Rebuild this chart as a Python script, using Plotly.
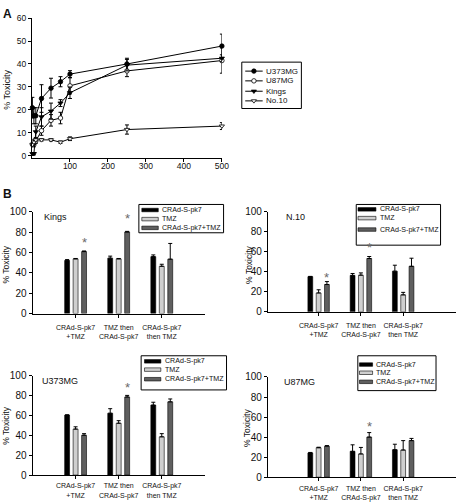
import plotly.graph_objects as go

W, H = 464, 504
FONT = "Liberation Sans, Arial, sans-serif"


def fx(p):
    return p / W


def fy(p):
    return 1 - p / H


# ---------------- Panel A data ----------------
moi = [1, 5, 10, 25, 50, 75, 100, 250, 500]
u373_mean = [21, 17.5, 17.5, 25, 29.5, 32.3, 35.6, 40, 47.8]
u373_err = [4.5, 3.5, 3.5, 6, 4.3, 2.2, 1.5, 2.5, 5.2]
u87_mean = [5, 5, 6.5, 11, 15.5, 16.5, 30.5, 37, 41.5]
u87_err = [0.5, 1, 1, 2, 2.5, 2.5, 3.5, 2.5, 5.5]
kings_mean = [1, 1, 10.5, 17, 19.5, 23, 27.5, 39.5, 42.5]
kings_err = [0.5, 0.5, 2.5, 4, 3.5, 1.5, 2.5, 2.5, 1.5]
no10_mean = [5, 6, 7, 7, 7, 6, 7.5, 11.5, 13]
no10_err = [0.5, 1, 0.5, 0.5, 0.5, 0.5, 0.8, 2, 1.5]
a_names = ["U373MG", "U87MG", "Kings", "No.10"]
a_xticks = [100, 200, 300, 400, 500]
a_yticks = [0, 10, 20, 30, 40, 50, 60]

# ---------------- Panel B data ----------------
treat_labels = ["CRAd-S-pk7<br>+TMZ", "TMZ then<br>CRAd-S-pk7", "CRAd-S-pk7<br>then TMZ"]
series_names = ["CRAd-S-pk7", "TMZ", "CRAd-S-pk7+TMZ"]
b_yticks = [0, 20, 40, 60, 80, 100]

kings_vals = [[52.3, 54.5, 56.0], [53.8, 53.8, 46.5], [61.0, 80.3, 53.5]]
kings_errs = [[0.8, 2.0, 1.7], [0.4, 0.4, 2.0], [0.6, 0.6, 15.5]]
kings_star = [71, 94.5]

n10_vals = [[35.2, 36.5, 40.7], [18.9, 36.7, 17.0], [27.4, 53.4, 45.6]]
n10_errs = [[0.3, 1.9, 6.0], [3.2, 2.3, 2.5], [2.9, 2.0, 8.1]]
n10_star = [35.8, 65]

u373b_vals = [[60.5, 62.4, 70.6], [46.4, 52.3, 38.6], [40.2, 78.8, 73.9]]
u373b_errs = [[0.3, 4.6, 2.9], [2.3, 2.6, 3.2], [1.6, 1.6, 2.9]]
u373b_star = [89]

u87b_vals = [[24.2, 25.8, 27.4], [29.4, 23.2, 27.1], [31.0, 40.0, 36.5]]
u87b_errs = [[0.5, 6.5, 5.5], [0.5, 6.5, 9.4], [0.5, 4.5, 2.2]]
u87b_star = [52]

bar_colors = ["#000000", "#cfcfcf", "#5f5f5f"]

fig = go.Figure()

# ---------------- Panel A traces ----------------
a_series = [
    (u373_mean, u373_err, "circle", "black"),
    (u87_mean, u87_err, "circle", "white"),
    (kings_mean, kings_err, "triangle-down", "black"),
    (no10_mean, no10_err, "triangle-down", "white"),
]
for name, (m, e, sym, fill) in zip(a_names, a_series):
    fig.add_trace(go.Scatter(
        x=moi, y=m, name=name, mode="lines+markers",
        line=dict(color="black", width=1),
        marker=dict(symbol=sym, size=4.5, color=fill, line=dict(color="black", width=0.8)),
        error_y=dict(type="data", array=e, visible=True, color="black", thickness=1, width=2),
        xaxis="x", yaxis="y", showlegend=False, cliponaxis=False,
    ))

# ---------------- Panel B traces ----------------
panels = [
    ("x2", "y2", kings_vals, kings_errs, kings_star, [0, 1]),
    ("x3", "y3", n10_vals, n10_errs, n10_star, [0, 1]),
    ("x4", "y4", u373b_vals, u373b_errs, u373b_star, [1]),
    ("x5", "y5", u87b_vals, u87b_errs, u87b_star, [1]),
]
group_pos = [0, 1, 2]
for xa, ya, vals, errs, stars, star_groups in panels:
    for k in range(3):
        fig.add_trace(go.Bar(
            x=group_pos, y=vals[k], name=series_names[k],
            marker=dict(color=bar_colors[k], line=dict(color="black", width=0.6)),
            error_y=dict(type="data", array=errs[k], arrayminus=[0, 0, 0], symmetric=False,
                         visible=True, color="black", thickness=1, width=2),
            xaxis=xa, yaxis=ya, showlegend=False,
        ))

layout_annotations = []
slot = 0.198
for xa, ya, vals, errs, stars, star_groups in panels:
    for g, sy in zip(star_groups, stars):
        layout_annotations.append(dict(
            x=g + slot, y=sy, xref=xa, yref=ya, text="*", showarrow=False,
            font=dict(family=FONT, size=13, color="#6a6a6a"), yanchor="middle", yshift=-1,
        ))

# ---------------- Axes ----------------
axis_common = dict(showline=True, linecolor="black", linewidth=1, ticks="outside",
                   ticklen=3, tickcolor="black", tickwidth=1, showgrid=False, zeroline=False,
                   tickfont=dict(family=FONT, color="#111"))

layout = dict(
    width=W, height=H, margin=dict(l=0, r=0, t=0, b=0),
    paper_bgcolor="white", plot_bgcolor="rgba(0,0,0,0)",
    barmode="group", bargap=0.41, bargroupgap=0.42,
    showlegend=False,
    font=dict(family=FONT, color="#111"),
)

layout["xaxis"] = dict(axis_common, domain=[fx(32.5), fx(225.3)], range=[0, 500],
                       tickvals=a_xticks, tickfont=dict(family=FONT, size=8.5, color="#111"),
                       ticklabelstandoff=-3, anchor="y")
layout["yaxis"] = dict(axis_common, domain=[fy(156), fy(12.3)], range=[-1, 60],
                       tickvals=a_yticks, tickfont=dict(family=FONT, size=8.5, color="#111"),
                       anchor="x")

b_geo = {
    "2": ([33, 208], [-1, 3], [315, 211], 4),
    "3": ([272, 463], [-1.2, 3.25], [313.3, 211], 4),
    "4": ([33, 208], [-1, 3], [480.5, 379], 1),
    "5": ([272, 463], [-1.2, 3.25], [482.7, 380], 1),
}
for n, (xd, xr, yd, so) in b_geo.items():
    layout["xaxis" + n] = dict(axis_common, domain=[fx(xd[0]), fx(xd[1])], range=xr,
                               tickvals=group_pos, ticktext=treat_labels,
                               tickfont=dict(family=FONT, size=7, color="#111"),
                               ticklabelstandoff=so, anchor="y" + n)
    layout["yaxis" + n] = dict(axis_common, domain=[fy(yd[0]), fy(yd[1])], range=[0, 100],
                               tickvals=b_yticks, tickfont=dict(family=FONT, size=10, color="#111"),
                               anchor="x" + n)

# pixel overlay axis for legend samples
layout["xaxis6"] = dict(domain=[0, 1], range=[0, W], visible=False, anchor="y6", fixedrange=True)
layout["yaxis6"] = dict(domain=[0, 1], range=[H, 0], visible=False, anchor="x6", fixedrange=True)

# ---------------- Text annotations ----------------
def ann(text, x, y, size, xanchor="left", yanchor="middle", bold=False, angle=0, color="#111"):
    t = f"<b>{text}</b>" if bold else text
    layout_annotations.append(dict(
        x=fx(x), y=fy(y), xref="paper", yref="paper", text=t, showarrow=False,
        xanchor=xanchor, yanchor=yanchor, textangle=angle,
        font=dict(family=FONT, size=size, color=color),
    ))

ann("A", 1, 8, 12, bold=True)
ann("B", 1, 193, 12, bold=True)
ann("% Toxicity", 7, 86, 9, xanchor="center", angle=-90)
ann("% Toxicity", 6, 265, 8.5, xanchor="center", angle=-90)
ann("% Toxicity", 252, 265, 8.5, xanchor="center", angle=-90)
ann("% Toxicity", 6, 430, 8.5, xanchor="center", angle=-90)
ann("% Toxicity", 251, 432, 8.5, xanchor="center", angle=-90)
ann("Kings", 42.5, 216, 9)
ann("N.10", 288.5, 216, 9)
ann("U373MG", 41, 384.3, 9)
ann("U87MG", 286.5, 385, 9)

shapes = []

# Panel A legend
a_leg_box = (245.5, 57.5, 306, 105)
a_leg_y = [66.7, 76.7, 87.3, 97.2]
shapes.append(dict(type="rect", xref="paper", yref="paper",
                   x0=fx(a_leg_box[0]), x1=fx(a_leg_box[2]), y0=fy(a_leg_box[3]), y1=fy(a_leg_box[1]),
                   line=dict(color="black", width=1), fillcolor="white", layer="below"))
for name, (m, e, sym, fill), ly in zip(a_names, a_series, a_leg_y):
    fig.add_trace(go.Scatter(x=[249, 266.7], y=[ly, ly], mode="lines",
                             line=dict(color="black", width=1), xaxis="x6", yaxis="y6",
                             showlegend=False, hoverinfo="skip"))
    fig.add_trace(go.Scatter(x=[257.8], y=[ly], mode="markers",
                             marker=dict(symbol=sym, size=4.5, color=fill, line=dict(color="black", width=0.8)),
                             xaxis="x6", yaxis="y6", showlegend=False, hoverinfo="skip"))
    ann(name, 268.5, ly, 8)

# Panel B legends: box, entry y positions, swatch x-range, text x
b_legends = [
    ((141, 203.3, 227, 232.3), [209, 218.3, 227.3], (144, 160.7), 162.5),
    ((361.7, 203.3, 447.3, 245), [208.3, 217.3, 229], (363.5, 381.7), 383.3),
    ((143.3, 358.3, 230, 393.3), [364, 372.5, 382.3], (146.7, 163.3), 165),
    ((363.3, 358.3, 442.7, 394), [367.3, 375.7, 385], (365, 378.3), 380),
]
for box, ys, sw, tx in b_legends:
    shapes.append(dict(type="rect", xref="paper", yref="paper",
                       x0=fx(box[0]), x1=fx(box[2]), y0=fy(box[3]), y1=fy(box[1]),
                       line=dict(color="black", width=1), fillcolor="white", layer="below"))
    for k, ly in enumerate(ys):
        shapes.append(dict(type="rect", xref="paper", yref="paper",
                           x0=fx(sw[0]), x1=fx(sw[1]), y0=fy(ly + 1.8), y1=fy(ly - 1.8),
                           line=dict(color="black", width=0.6), fillcolor=bar_colors[k]))
        ann(series_names[k], tx, ly, 7.1)

layout["shapes"] = shapes
layout["annotations"] = layout_annotations
fig.update_layout(**layout)

fig.write_html(
    "out.html",
    config={"displayModeBar": False},
    post_script="document.body.style.margin='0';document.body.style.overflow='hidden';",
)
